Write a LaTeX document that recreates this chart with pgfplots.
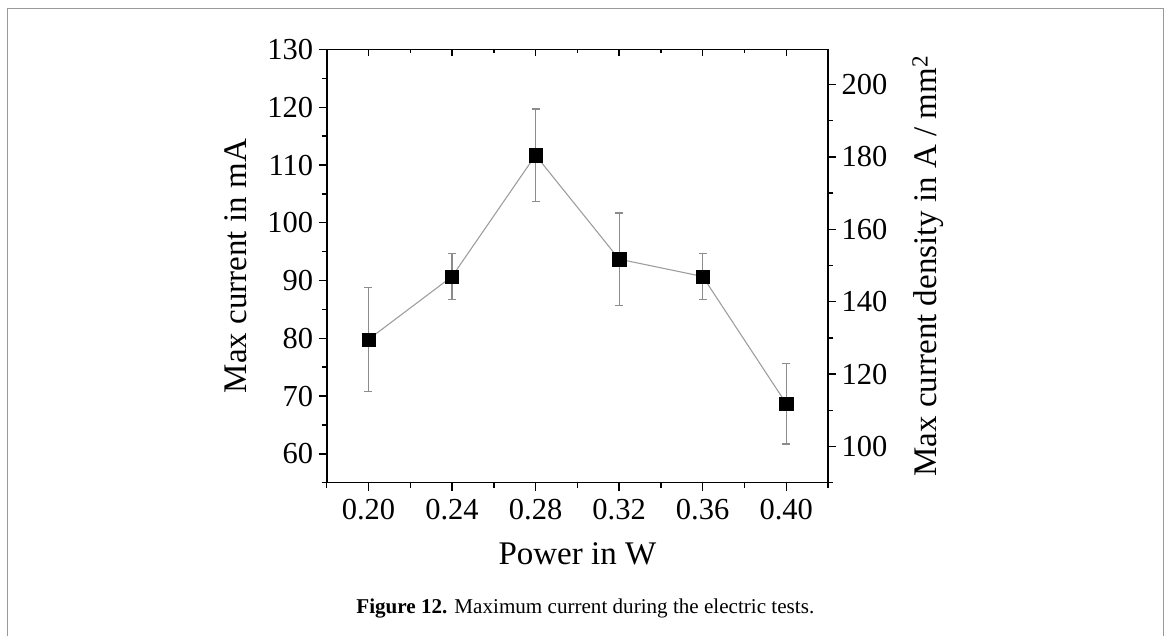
\documentclass[border=0pt]{standalone}
\usepackage{pgfplots}
\pgfplotsset{compat=1.18}
\usepackage{fontspec}
\setmainfont{Liberation Serif}
\pgfplotstableread{
x     y      e
0.20  79.8   9.0
0.24  90.7   4.0
0.28  111.7  8.0
0.32  93.7   8.0
0.36  90.7   4.0
0.40  68.7   7.0
}\datatable
\begin{document}
\begin{tikzpicture}[x=1pt,y=1pt]
\useasboundingbox (0,0) rectangle (1167,636);
\draw[black!40, line width=1.2pt] (7.5,-2) -- (7.5,627.7) -- (1163.3,627.7) -- (1163.3,-2);
\pgfplotsset{
  myaxis/.style={
    at={(326.7pt,153.3pt)}, anchor=south west,
    scale only axis, width=501.3pt, height=433.2pt,
    xmin=0.18, xmax=0.42,
    axis line style={line width=1.6pt},
    tick style={line width=1.4pt, black},
    major tick length=8pt, minor tick length=5pt,
    ticklabel style={font=\fontsize{30.5}{36}\selectfont},
    /pgf/number format/assume math mode=true,
    label style={font=\fontsize{33}{40}\selectfont},
  }
}
% main axis
\begin{axis}[myaxis,
  ymin=55, ymax=130,
  xtick={0.20,0.24,0.28,0.32,0.36,0.40},
  xticklabels={0.20,0.24,0.28,0.32,0.36,0.40},
  minor xtick={0.18,0.22,0.26,0.30,0.34,0.38,0.42},
  ytick={60,70,80,90,100,110,120,130},
  minor ytick={55,65,75,85,95,105,115,125},
  xtick pos=bottom, ytick pos=left, tick align=outside,
  xticklabel style={yshift=-5pt},
  yticklabel style={xshift=-2pt},
  xlabel={Power in W}, ylabel={Max current in mA},
  xlabel style={at={(axis description cs:0.5,-0.165)}, anchor=center},
  ylabel style={at={(axis description cs:-0.181,0.5)}, anchor=center},
]
\addplot[black!38, line width=1.1pt, mark=none,
  error bars/.cd, y dir=both, y explicit,
  error bar style={black!45, line width=1.1pt},
  error mark options={rotate=90, mark size=4pt, black!45, line width=1.1pt}]
  table[x=x, y=y, y error=e] {\datatable};
\addplot[only marks, mark=square*, mark size=6.6pt, black]
  table[x=x, y=y] {\datatable};
\end{axis}
% top ticks (inside)
\begin{axis}[myaxis,
  ymin=55, ymax=130,
  axis x line*=top, hide y axis,
  xtick={0.20,0.24,0.28,0.32,0.36,0.40},
  minor xtick={0.18,0.22,0.26,0.30,0.34,0.38,0.42},
  xticklabels={},
  tick align=inside,
  major tick length=7pt, minor tick length=4pt,
]
\end{axis}
% right axis
\begin{axis}[myaxis,
  ymin=90, ymax=209.7,
  axis y line*=right, hide x axis,
  ytick={100,120,140,160,180,200},
  minor ytick={90,110,130,150,170,190},
  tick align=outside,
  yticklabel style={xshift=2pt},
  ylabel={Max current density in A / mm\textsuperscript{2}},
  ylabel style={at={(axis description cs:1.1995,0.5)}, anchor=center},
]
\end{axis}
\node[font=\fontsize{21.1}{25}\selectfont, anchor=base] at (585.3,22.7)
  {\textbf{Figure 12.} Maximum current during the electric tests.};
\end{tikzpicture}
\end{document}
